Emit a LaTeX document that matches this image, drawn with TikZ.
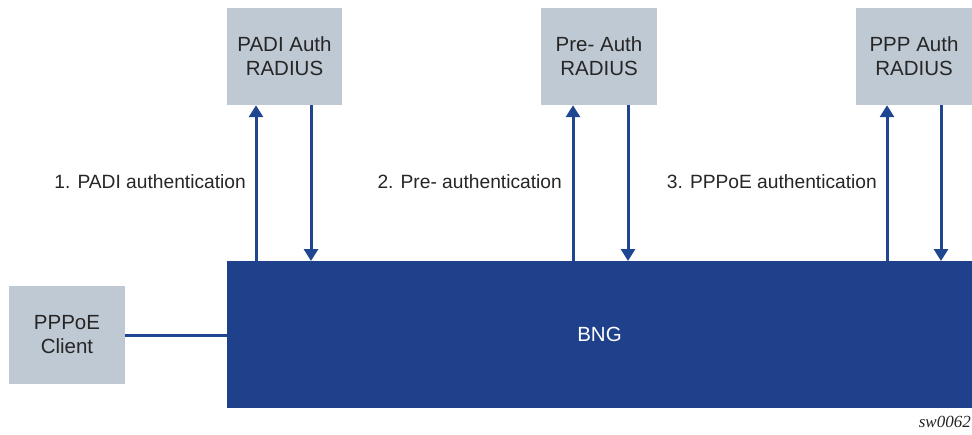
\documentclass[tikz,border=0pt]{standalone}
\usepackage{fontspec}
\setmainfont{Liberation Sans}
\usetikzlibrary{arrows.meta}
\definecolor{boxgray}{HTML}{BFC9D3}
\definecolor{bngblue}{HTML}{1F418C}
\definecolor{arrblue}{HTML}{1F4690}
\begin{document}
\begin{tikzpicture}[x=1pt,y=-1pt,
  graybox/.style={fill=boxgray,draw=none,inner sep=0pt,align=center,font=\fontsize{20.5}{24}\selectfont,text=black!85},
  conn/.style={draw=arrblue,line width=3pt,-{Triangle[width=14pt,length=12pt]}},
  lbl/.style={anchor=east,inner sep=0pt,font=\fontsize{19.2}{22}\selectfont,text=black!85}]
\useasboundingbox (0,0) rectangle (972,434);
\node[graybox,minimum width=115pt,minimum height=97pt] (padi) at (284.5,56.5) {PADI Auth\\RADIUS};
\node[graybox,minimum width=116pt,minimum height=97pt] (pre) at (599,56.5) {Pre- Auth\\RADIUS};
\node[graybox,minimum width=116pt,minimum height=97pt] (ppp) at (914,56.5) {PPP Auth\\RADIUS};
\node[graybox,minimum width=116pt,minimum height=98pt] (client) at (67,335) {PPPoE\\Client};
\node[fill=bngblue,minimum width=745pt,minimum height=147pt,inner sep=0pt,text=white,font=\fontsize{20.5}{24}\selectfont] (bng) at (599.5,334.5) {BNG};
\draw[draw=arrblue,line width=3pt] (client.east) -- (client.east -| bng.west);
\coordinate (p1) at (256,261); \coordinate (p2) at (311,261);
\coordinate (q1) at (573,261); \coordinate (q2) at (628,261);
\coordinate (r1) at (887,261); \coordinate (r2) at (941,261);
\draw[conn] (p1) -- (p1 |- padi.south);
\draw[conn] (p2 |- padi.south) -- (p2);
\draw[conn] (q1) -- (q1 |- pre.south);
\draw[conn] (q2 |- pre.south) -- (q2);
\draw[conn] (r1) -- (r1 |- ppp.south);
\draw[conn] (r2 |- ppp.south) -- (r2);
\node[lbl] (l1) at (246,182) {1. PADI authentication};
\node[lbl] (l2) at (562,182) {2. Pre- authentication};
\node[lbl] (l3) at (877,182) {3. PPPoE authentication};
\node[anchor=east,inner sep=0pt,font=\fontspec{Liberation Serif}\itshape\fontsize{17}{19}\selectfont,text=black!85] (sw) at (971,422) {sw0062};
\end{tikzpicture}
\end{document}
